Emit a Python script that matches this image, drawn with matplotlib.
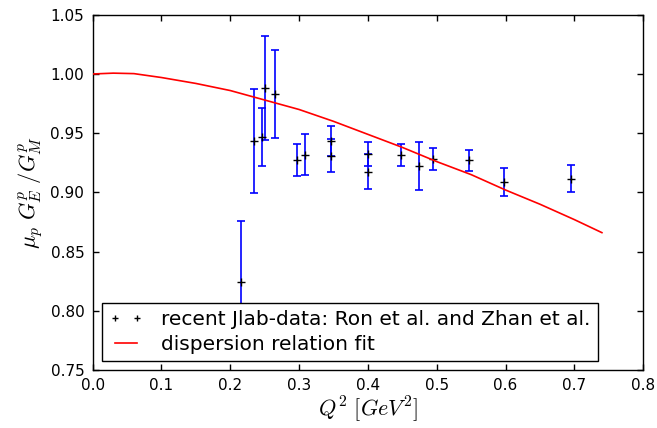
import numpy as np
import matplotlib
matplotlib.use("Agg")
import matplotlib.pyplot as plt

matplotlib.rc('font', family='DejaVu Sans')
matplotlib.rc('mathtext', fontset='cm')

# Jlab data: Ron et al. and Zhan et al.
q2 = [0.215, 0.2345, 0.2456, 0.2504, 0.265, 0.2974, 0.3081, 0.3464, 0.3464,
      0.4006, 0.4006, 0.4481, 0.4738, 0.4942, 0.547, 0.5983, 0.6952]
ratio = [0.8246, 0.9432, 0.9466, 0.988, 0.9832, 0.9272, 0.9319, 0.9432, 0.931,
         0.9322, 0.9175, 0.9317, 0.9224, 0.928, 0.9272, 0.9086, 0.9117]
ratio_err = [0.051, 0.0437, 0.0245, 0.044, 0.037, 0.0133, 0.017, 0.0127, 0.014,
             0.010, 0.0148, 0.0095, 0.020, 0.0093, 0.0089, 0.0117, 0.0117]

# dispersion relation fit
fit_q2 = [0.0, 0.03, 0.06, 0.1, 0.15, 0.2, 0.25, 0.3, 0.35, 0.4, 0.45, 0.5,
          0.55, 0.6, 0.65, 0.7, 0.74]
fit_ratio = [1.000, 1.0007, 1.0003, 0.997, 0.992, 0.986, 0.978, 0.970, 0.960,
             0.949, 0.938, 0.926, 0.915, 0.902, 0.890, 0.877, 0.866]

fig = plt.figure(figsize=(6.57, 4.28), dpi=100)
ax = fig.add_axes([0.141, 0.1355, 0.838, 0.83])

ax.errorbar(q2, ratio, yerr=ratio_err, fmt='none', ecolor='blue',
            elinewidth=1.2, capsize=3, capthick=1.2, zorder=2)
ax.plot(q2, ratio, '+', color='black', markersize=5.5, markeredgewidth=1.0,
        label='recent Jlab-data: Ron et al. and Zhan et al.', zorder=3)
ax.plot(fit_q2, fit_ratio, '-', color='red', linewidth=1.2,
        label='dispersion relation fit', zorder=4)

ax.set_xlim(0.0, 0.8)
ax.set_ylim(0.75, 1.05)
ax.set_xticks(np.arange(0.0, 0.81, 0.1))
ax.set_yticks(np.arange(0.75, 1.051, 0.05))
ax.xaxis.set_major_formatter(matplotlib.ticker.FormatStrFormatter('%.1f'))
ax.yaxis.set_major_formatter(matplotlib.ticker.FormatStrFormatter('%.2f'))
ax.tick_params(direction='in', top=True, right=True, length=4, width=1,
               labelsize=11, pad=6)
for s in ax.spines.values():
    s.set_linewidth(1.0)

ax.set_xlabel(r'$Q^2\ [GeV^2]$', fontsize=16, labelpad=1)
ax.set_ylabel(r'$\mu_p\ G_E^p\ /G_M^p$', fontsize=16)

leg = ax.legend(loc='lower left', numpoints=2, fontsize=14.5, fancybox=False,
                framealpha=1, edgecolor='black', borderaxespad=0.45,
                handlelength=1.7, handletextpad=0.9, labelspacing=0.3,
                borderpad=0.35, markerscale=0.8)
leg.get_frame().set_linewidth(1.0)

fig.savefig('out.png', dpi=100)
